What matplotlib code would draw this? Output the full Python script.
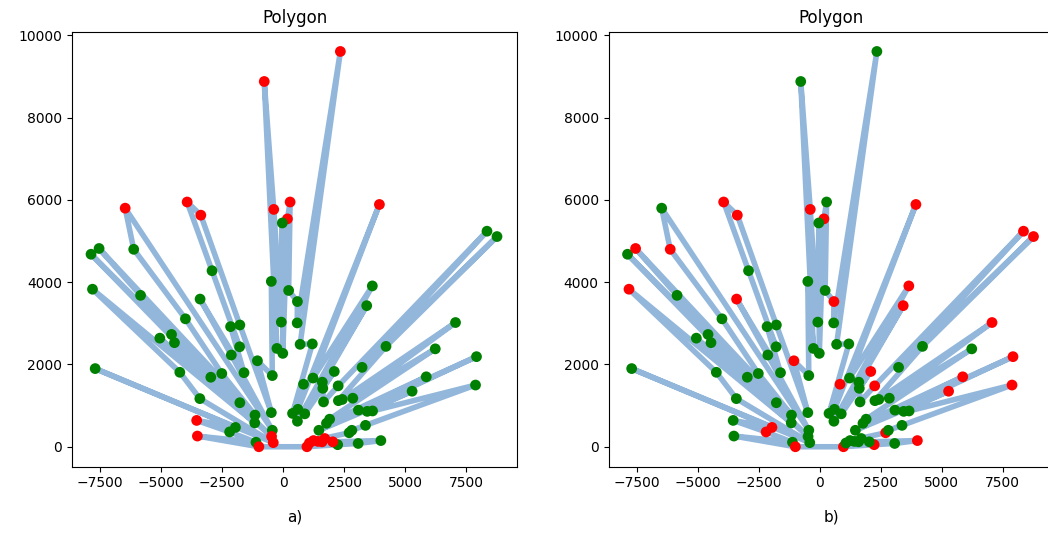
import numpy as np
import matplotlib
matplotlib.use("Agg")
import matplotlib.pyplot as plt

## DATA: polygon vertices (unordered)
xs = [-6470, -3930, -3370, -770, 2350, -380, 290, 180, -30, 3950,
      8360, 8770, -7870, -7540, -6120, -7810, -5840, -2910, -3400, -4000,
      -2150, -1770, -5050, -4570, -4450, -480, 230, 590, -70, 580,
      3660, 3430, 7070, -250, -10, 700, 1200, 4220, 6240, 7930,
      7890, 5870, 5290, -7700, -4230, -2960, -2510, -1600, -2120, -1780,
      -1050, -440, -3410, -1770, -1150, -1160, -480, -3540, -3510, -2190,
      -1950, -1110, -990, -440, -470, -400, 840, 1230, 1610, 1630,
      2100, 3240, 2260, 1660, 2270, 2430, 2860, 390, 610, 890,
      590, 3090, 3450, 3670, 3380, 1910, 1780, 1470, 2710, 2820,
      2240, 3080, 4010, 980, 1080, 1250, 1430, 1600, 1710, 2040]
ys = [5800, 5950, 5630, 8880, 9610, 5770, 5950, 5540, 5440, 5890,
      5240, 5110, 4680, 4820, 4800, 3830, 3680, 4280, 3590, 3110,
      2920, 2960, 2640, 2730, 2530, 4020, 3800, 3530, 3030, 3010,
      3910, 3430, 3020, 2390, 2270, 2490, 2500, 2440, 2380, 2190,
      1500, 1700, 1350, 1900, 1810, 1690, 1780, 1800, 2230, 2430,
      2090, 1730, 1170, 1070, 770, 580, 830, 640, 260, 360,
      470, 110, 0, 400, 250, 100, 1520, 1670, 1570, 1420,
      1830, 1930, 1480, 1090, 1120, 1150, 1180, 810, 910, 800,
      620, 890, 860, 870, 520, 670, 570, 400, 340, 400,
      50, 80, 150, 0, 90, 150, 130, 120, 200, 120]

# r = red vertex, g = green vertex (same point order as above)
flags_a = ["rrrrrrrrgr", "gggggggggg", "gggggggggg", "gggggggggg", "gggggggggg",
           "gggggggrrg", "ggrgrrgggg", "gggggggggg", "gggggggggg", "gggrrrrrrr"]
flags_b = ["grrggrgrgr", "rrgrrrggrg", "gggggggrgg", "rrrggggggr", "rrrggggggg",
           "rggggggggr", "rgrgggrggg", "rgrggggggg", "ggggggggrg", "rgrrgggggg"]

panels = [("a)", "".join(flags_a)), ("b)", "".join(flags_b))]

## SETTINGS
figwidth = 10.48; figheight = 5.33
poly_color = "#6699cc"
## / SETTINGS

x = np.array(xs, dtype=float)
y = np.array(ys, dtype=float)

# vertices are walked in order of their angle around the origin
order = np.argsort(np.arctan2(y, x))
ring = np.append(order, order[0])

fig = plt.figure(figsize=(figwidth, figheight), dpi=100)
lefts = [72 / 1048, 608.5 / 1048]

for left, (label, flags) in zip(lefts, panels):
    ax = fig.add_axes([left, 0.1244, 445 / 1048, 0.8161])
    ax.plot(x[ring], y[ring], color=poly_color, alpha=0.7, linewidth=4,
            solid_capstyle="round", zorder=1)
    cols = ["red" if f == "r" else "green" for f in flags]
    ax.scatter(x, y, c=cols, s=60, linewidths=0, zorder=2)
    ax.set_xlim(-8650, 9590)
    ax.set_ylim(-485, 10090)
    ax.set_title("Polygon", fontsize=12)
    ax.set_xlabel(label, fontsize=11, labelpad=14)

fig.savefig("out.png", dpi=100)
